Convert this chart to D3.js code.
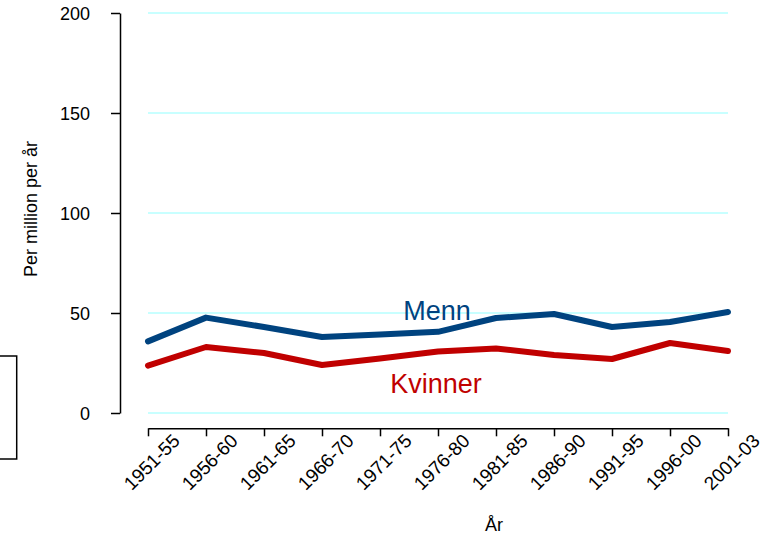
<!DOCTYPE html>
<html>
<head>
<meta charset="utf-8">
<script src="https://cdn.jsdelivr.net/npm/d3@7"></script>
<style>
  html, body { margin: 0; padding: 0; background: #fff; }
  svg { display: block; font-family: "Liberation Sans", Arial, sans-serif; }
</style>
</head>
<body>
<svg id="chart" width="766" height="537"></svg>
<script>
const periods = ["1951-55","1956-60","1961-65","1966-70","1971-75","1976-80","1981-85","1986-90","1991-95","1996-00","2001-03"];
const menn    = [35.8, 47.7, 43, 38, 39.2, 40.6, 47.5, 49.5, 43, 45.5, 50.5];
const kvinner = [23.7, 33, 30, 24, 27.3, 30.8, 32.3, 29, 27, 35, 31];
const yTicks  = [0, 50, 100, 150, 200];
const seriesNames = ["Menn", "Kvinner"];
const yTitle = "Per million per år";
const xTitle = "År";

const svg = d3.select("#chart");
const x = d3.scalePoint().domain(periods).range([148, 728]);
const y = d3.scaleLinear().domain([0, 200]).range([413, 13]);

// grid lines
svg.append("g").selectAll("line").data(yTicks).join("line")
  .attr("x1", x(periods[0])).attr("x2", x(periods[periods.length - 1]))
  .attr("y1", d => y(d)).attr("y2", d => y(d))
  .attr("stroke", "#c8ffff").attr("stroke-width", 2);

// y axis
const yAxis = svg.append("g").attr("transform", "translate(120,0)")
  .call(d3.axisLeft(y).tickValues(yTicks).tickSize(9).tickSizeOuter(0).tickPadding(21));
yAxis.select(".domain").attr("stroke", "#000").attr("stroke-width", 1.5);
yAxis.selectAll(".tick line").attr("stroke", "#000").attr("stroke-width", 1.5);
yAxis.selectAll(".tick text").attr("font-size", 18).attr("fill", "#000")
  .attr("font-family", "Liberation Sans, Arial, sans-serif").attr("dy", "0.35em");

// x axis
const xAxis = svg.append("g").attr("transform", "translate(0,428.3)")
  .call(d3.axisBottom(x).tickSize(8).tickSizeOuter(0).tickFormat(""));
xAxis.select(".domain").attr("stroke", "#000").attr("stroke-width", 1.5);
xAxis.selectAll(".tick line").attr("stroke", "#000").attr("stroke-width", 1.5);

svg.append("g").selectAll("text").data(periods).join("text")
  .attr("transform", d => `translate(${x(d) + 33},442) rotate(-45)`)
  .attr("text-anchor", "end")
  .attr("font-size", 19)
  .attr("fill", "#000")
  .text(d => d);

// lines
const line = d3.line().x((d, i) => x(periods[i])).y(d => y(d));
svg.append("path").datum(menn).attr("d", line)
  .attr("fill", "none").attr("stroke", "#00437f").attr("stroke-width", 6)
  .attr("stroke-linecap", "round").attr("stroke-linejoin", "round");
svg.append("path").datum(kvinner).attr("d", line)
  .attr("fill", "none").attr("stroke", "#c00000").attr("stroke-width", 6)
  .attr("stroke-linecap", "round").attr("stroke-linejoin", "round");

// series labels
svg.append("text").attr("x", 437).attr("y", 320).attr("text-anchor", "middle")
  .attr("font-size", 27).attr("fill", "#00437f").text(seriesNames[0]);
svg.append("text").attr("x", 436).attr("y", 393).attr("text-anchor", "middle")
  .attr("font-size", 27).attr("fill", "#c00000").text(seriesNames[1]);

// axis titles
svg.append("text").attr("transform", "translate(37,209) rotate(-90)")
  .attr("text-anchor", "middle").attr("font-size", 18).attr("fill", "#000").text(yTitle);
svg.append("text").attr("x", 494).attr("y", 531)
  .attr("text-anchor", "middle").attr("font-size", 18).attr("fill", "#000").text(xTitle);

// partial box at left
svg.append("rect").attr("x", -5).attr("y", 356).attr("width", 21.7).attr("height", 103)
  .attr("fill", "none").attr("stroke", "#000").attr("stroke-width", 1.5);
</script>
</body>
</html>
